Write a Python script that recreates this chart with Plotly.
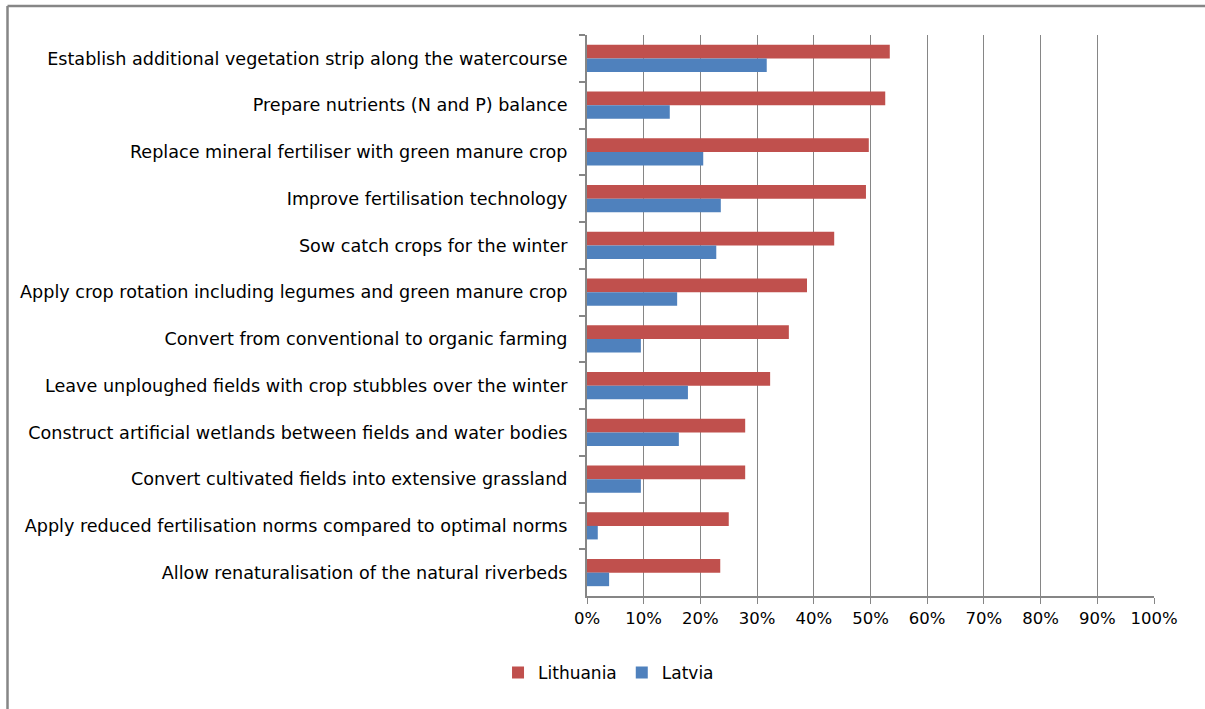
import plotly.graph_objects as go

categories = [
    "Establish additional vegetation strip along the watercourse",
    "Prepare nutrients (N and P) balance",
    "Replace mineral fertiliser with green manure crop",
    "Improve fertilisation technology",
    "Sow catch crops for the winter",
    "Apply crop rotation including legumes and green manure crop",
    "Convert from conventional to organic farming",
    "Leave unploughed fields with crop stubbles over the winter",
    "Construct artificial wetlands between fields and water bodies",
    "Convert cultivated fields into extensive grassland",
    "Apply reduced fertilisation norms compared to optimal norms",
    "Allow renaturalisation of the natural riverbeds",
]
lithuania = [0.534, 0.526, 0.497, 0.492, 0.436, 0.388, 0.356, 0.323, 0.279, 0.279, 0.250, 0.235]
latvia = [0.317, 0.146, 0.205, 0.236, 0.228, 0.159, 0.095, 0.178, 0.162, 0.095, 0.019, 0.039]
x_ticks = [0, 0.1, 0.2, 0.3, 0.4, 0.5, 0.6, 0.7, 0.8, 0.9, 1.0]
x_tick_labels = ["0%", "10%", "20%", "30%", "40%", "50%", "60%", "70%", "80%", "90%", "100%"]

FONT = "DejaVu Sans"
GRAY = "#868686"

fig = go.Figure()
fig.add_trace(go.Bar(y=categories, x=lithuania, orientation="h", name="Lithuania",
                     marker=dict(color="#C0504D", line=dict(width=0))))
fig.add_trace(go.Bar(y=categories, x=latvia, orientation="h", name="Latvia",
                     marker=dict(color="#4F81BD", line=dict(width=0))))

W, H = 1205, 709
L, R, T, B = 587, 51, 35, 113
pw, ph = W - L - R, H - T - B

def px_to_paper_x(px):
    return (px - L) / pw

def px_to_paper_y(py):
    return (H - B - py) / ph

fig.update_layout(
    width=W, height=H,
    margin=dict(l=L, r=R, t=T, b=B),
    paper_bgcolor="white", plot_bgcolor="white",
    barmode="group", bargap=0.42, bargroupgap=0,
    font=dict(family=FONT, size=16, color="black"),
    showlegend=True,
    legend=dict(orientation="h", xref="container", yref="container",
                x=0.505, y=0.051, xanchor="center", yanchor="middle",
                font=dict(family=FONT, size=17, color="black"),
                itemwidth=30, tracegroupgap=0),
    xaxis=dict(range=[0, 1], tickvals=x_ticks, ticktext=x_tick_labels,
               showgrid=True, gridcolor=GRAY, gridwidth=1,
               showline=True, linecolor=GRAY, linewidth=2,
               ticks="outside", ticklen=6, tickcolor=GRAY, tickwidth=1,
               zeroline=False, fixedrange=True,
               tickfont=dict(family=FONT, size=16.5, color="black")),
    yaxis=dict(autorange="reversed", type="category",
               showgrid=False, showline=True, linecolor=GRAY, linewidth=2,
               ticks="outside", ticklen=6, tickcolor=GRAY, tickwidth=1.5,
               tickson="boundaries", ticklabelstandoff=14,
               tickfont=dict(family=FONT, size=17.6, color="black")),
    shapes=[
        dict(type="line", xref="paper", yref="paper",
             x0=px_to_paper_x(7.5), x1=px_to_paper_x(1210),
             y0=px_to_paper_y(6), y1=px_to_paper_y(6),
             line=dict(color=GRAY, width=2.5)),
        dict(type="line", xref="paper", yref="paper",
             x0=px_to_paper_x(7.5), x1=px_to_paper_x(7.5),
             y0=px_to_paper_y(6), y1=px_to_paper_y(720),
             line=dict(color=GRAY, width=2.5)),
    ],
)

fig.write_html("out.html")
